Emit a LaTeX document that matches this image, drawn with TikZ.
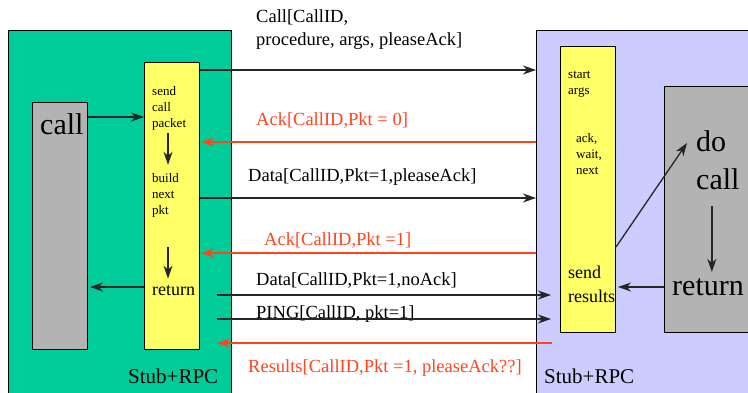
\documentclass[tikz,border=0pt]{standalone}
\usepackage{fontspec}
\setmainfont{Liberation Serif}
\usepackage{tikz}
\usetikzlibrary{calc,arrows.meta}
\definecolor{stubgreen}{RGB}{0,204,153}
\definecolor{stubblue}{RGB}{204,204,255}
\definecolor{procgray}{RGB}{179,179,179}
\definecolor{pktyellow}{RGB}{255,255,102}
\definecolor{ackred}{RGB}{255,69,30}

\begin{document}
\begin{tikzpicture}[x=1pt,y=-1pt,
	box/.style={draw,inner sep=0pt,anchor=north west,line width=1pt},
	msg/.style={-{Stealth[length=13pt,width=9pt,inset=4pt]},line width=1.3pt,black!85},
	ack/.style={msg,ackred},
	txt/.style={anchor=base west,inner sep=0pt,align=left},
	lbl/.style={txt,font=\fontsize{18.5}{22.7}\selectfont},
	small/.style={txt,font=\fontsize{13}{15.7}\selectfont},
	mid/.style={txt,font=\fontsize{18}{24}\selectfont},
	big/.style={txt,font=\fontsize{30}{38}\selectfont}]
	\useasboundingbox (0,0) rectangle (748,393);
	\clip (0,0) rectangle (748,393);
	
	\node[box,fill=stubgreen,minimum width=223,minimum height=375] (C) at (8,30) {};
	\node[box,fill=stubblue,minimum width=230,minimum height=375] (S) at (536,30) {};
	
	\node[box,fill=procgray,minimum width=55,minimum height=247] (CP) at (32,102) {};
	\node[box,fill=pktyellow,minimum width=55,minimum height=287] (CY) at (144,62) {};
	\node[box,fill=pktyellow,minimum width=55,minimum height=286] (SY) at (560,46) {};
	\node[box,fill=procgray,minimum width=100,minimum height=246] (SP) at (664,86) {};
	
	% client side (multi-line nodes sit on their last line)
	\node[big] (callT) at (40,135) {call};
	\node[small] (sendcall) at (152,127.4) {send\\call\\packet};
	\node[small] (build) at (152,214.4) {build\\next\\pkt};
	\node[mid] (ret) at (152,295) {return};
	\node[txt,font=\fontsize{21}{25}\selectfont] (cstub) at (128,383) {Stub+RPC};
	
	% server side
	\node[small] (start) at (568,94.7) {start\\args};
	\node[small] (ackwait) at (576,174.4) {ack,\\wait,\\next};
	\node[mid] (sendres) at (568,302) {send\\results};
	\node[big] (docall) at (696,190) {do\\call};
	\node[big] (sret) at (672,295) {return};
	\node[txt,font=\fontsize{21}{25}\selectfont] (sstub) at (544,383) {Stub+RPC};
	
	\draw[msg] ($(CP.north east)+(0,15)$) -- ($(CY.north west)+(0,55)$);
	\draw[msg] ($(CY.south west)+(0,-63)$) -- ($(CP.south east)+(2,-63)$);
	\draw[msg] ($(sendcall.south -| CY.center)+(-4,3)$) -- ($(build.north -| CY.center)+(-4,-9)$);
	\draw[msg] ($(build.south -| CY.center)+(-4,30)$) -- ($(ret.north -| CY.center)+(-4,-6)$);
	
	\draw[msg] ($(SY.south east)+(0,-86)$) -- ($(docall.north west)+(-9,12)$);
	\draw[msg] ($(docall.south)+(-6,16)$) -- ($(docall.south |- sret.north)+(-6,-6)$);
	\draw[msg] ($(SP.south west)+(0,-46)$) -- ($(SY.south east)+(2,-46)$);
	
	% messages
	\node[lbl] (callmsg) at (256,45.7) {Call[CallID,\\procedure, args, pleaseAck]};
	\node[lbl,text=ackred] (ack0) at (256,125.7) {Ack[CallID,Pkt = 0]};
	\node[lbl] (data1) at (248,181.7) {Data[CallID,Pkt=1,pleaseAck]};
	\node[lbl,text=ackred] (ack1) at (264,246) {Ack[CallID,Pkt =1]};
	\node[lbl] (data2) at (256,286) {Data[CallID,Pkt=1,noAck]};
	\node[lbl] (ping) at (256,318) {PING[CallID, pkt=1]};
	\node[lbl,text=ackred] (res) at (248,372.7) {Results[CallID,Pkt =1, pleaseAck??]};
	
	\draw[msg] ($(CY.north east)+(0,8)$) -- ($(S.north west)+(0,40)$);
	\draw[ack] ($(S.north west)+(0,112)$) -- ($(CY.north east)+(1,80)$);
	\draw[msg] ($(CY.north east)+(0,136)$) -- ($(S.north west)+(0,168)$);
	\draw[ack] ($(S.north west)+(0,223)$) -- ($(CY.north east)+(1,191)$);
	\draw[msg] ($(CY.south east)+(17,-55)$) -- ($(SY.south west)+(-9,-38)$);
	\draw[msg] ($(CY.south east)+(17,-31)$) -- ($(SY.south west)+(-9,-14)$);
	\draw[ack] ($(SY.south west)+(-8,10)$) -- ($(CY.south east)+(17,-7)$);
\end{tikzpicture}
\end{document}
